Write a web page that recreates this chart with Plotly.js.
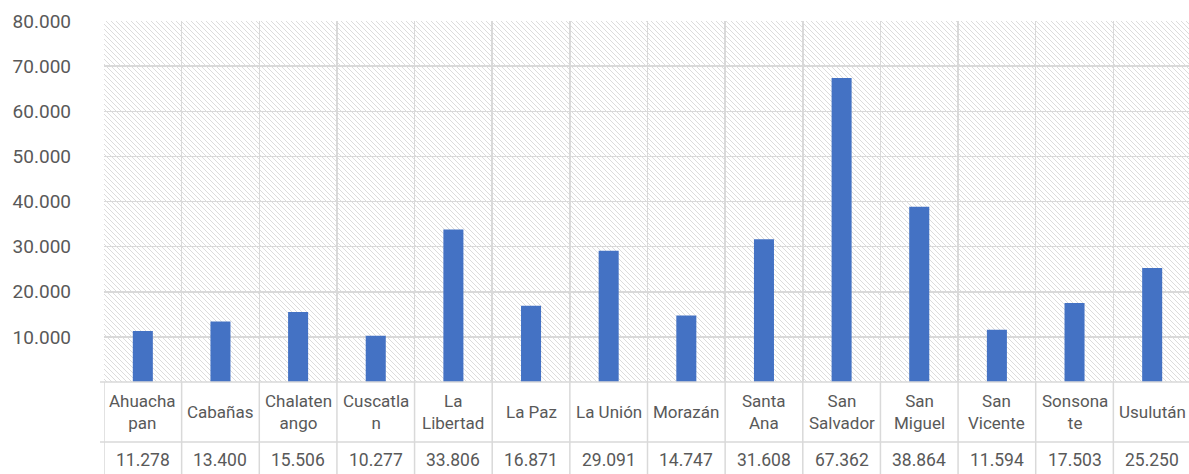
<!DOCTYPE html>
<html>
<head>
<meta charset="utf-8">
<script src="https://cdn.plot.ly/plotly-3.0.1.min.js"></script>
<style>
  html, body { margin: 0; padding: 0; background: #ffffff; overflow: hidden; }
  #chart { width: 1192px; height: 474px; }
</style>
</head>
<body>
<div id="chart"></div>
<script>
// ---- Data ----
const categories = ['Ahuachapan', 'Cabañas', 'Chalatenango', 'Cuscatlan', 'La Libertad', 'La Paz', 'La Unión',
                    'Morazán', 'Santa Ana', 'San Salvador', 'San Miguel', 'San Vicente', 'Sonsonate', 'Usulután'];
const tableLabels = ['Ahuacha<br>pan', 'Cabañas', 'Chalaten<br>ango', 'Cuscatla<br>n', 'La<br>Libertad', 'La Paz', 'La Unión',
                     'Morazán', 'Santa<br>Ana', 'San<br>Salvador', 'San<br>Miguel', 'San<br>Vicente', 'Sonsona<br>te', 'Usulután'];
const values = [11278, 13400, 15506, 10277, 33806, 16871, 29091, 14747, 31608, 67362, 38864, 11594, 17503, 25250];
const yTickVals = [10000, 20000, 30000, 40000, 50000, 60000, 70000, 80000];

// ---- Layout constants ----
const W = 1192, H = 474;
const M = { l: 104, r: 1, t: 21, b: 92 };
const plotH = H - M.t - M.b;          // 361
const plotW = W - M.l - M.r;
const plotBottom = M.t + plotH;       // 382
const pyToPaper = py => (plotBottom - py) / plotH;

const textColor = '#595959';
const gridColor = '#d9d9d9';
const fontFamily = 'Roboto, "Open Sans", sans-serif';
const plotBgSentinel = 'rgb(255, 255, 254)';

function fmt(v) { return String(v).replace(/\B(?=(\d{3})+(?!\d))/g, '.'); }

const trace = {
  type: 'bar',
  x: categories,
  y: values,
  marker: { color: '#4472C4', line: { width: 0 } },
  hoverinfo: 'x+y'
};

const annotations = [];
categories.forEach((c, i) => {
  annotations.push({
    xref: 'x', yref: 'paper', x: c, y: pyToPaper(412),
    text: tableLabels[i], showarrow: false, xanchor: 'center', yanchor: 'middle',
    align: 'center', valign: 'middle',
    font: { family: fontFamily, size: 17, color: textColor }
  });
  annotations.push({
    xref: 'x', yref: 'paper', x: c, y: pyToPaper(460),
    text: fmt(values[i]), showarrow: false, xanchor: 'center', yanchor: 'middle',
    font: { family: fontFamily, size: 17.5, color: textColor }
  });
});

const shapes = [];
for (let i = 0; i <= categories.length; i++) {
  shapes.push({
    type: 'line', xref: 'x', yref: 'paper',
    x0: i - 0.5, x1: i - 0.5, y0: pyToPaper(480), y1: 0,
    line: { color: gridColor, width: 1.5 }, layer: 'below'
  });
}
shapes.push({
  type: 'line', xref: 'paper', yref: 'paper',
  x0: -4 / plotW, x1: 1, y0: pyToPaper(442), y1: pyToPaper(442),
  line: { color: gridColor, width: 1.5 }
});
shapes.push({
  type: 'line', xref: 'paper', yref: 'paper',
  x0: -4 / plotW, x1: 1, y0: 0, y1: 0,
  line: { color: gridColor, width: 1.5 }
});

const layout = {
  width: W, height: H,
  margin: M,
  paper_bgcolor: '#ffffff',
  plot_bgcolor: plotBgSentinel,
  separators: ',.',
  showlegend: false,
  bargap: 0.742,
  font: { family: fontFamily, color: textColor },
  xaxis: {
    type: 'category',
    range: [-0.5, categories.length - 0.5],
    tickson: 'boundaries',
    showgrid: true, gridcolor: gridColor, gridwidth: 1.5,
    showticklabels: false, ticks: '',
    showline: false, zeroline: false, fixedrange: true
  },
  yaxis: {
    range: [0, 80000],
    tickvals: yTickVals,
    tickformat: ',d',
    showgrid: true, gridcolor: gridColor, gridwidth: 1.5,
    zeroline: false, showline: false, ticks: '',
    ticklabelstandoff: 32,
    tickfont: { family: fontFamily, size: 19, color: textColor },
    fixedrange: true
  },
  annotations: annotations,
  shapes: shapes
};

function applyHatch(gd) {
  const svgNS = 'http://www.w3.org/2000/svg';
  const svg = gd.querySelector('svg.main-svg');
  if (!svg) return;
  let defs = svg.querySelector('defs');
  if (!defs) { defs = document.createElementNS(svgNS, 'defs'); svg.insertBefore(defs, svg.firstChild); }
  if (!document.getElementById('hatchBg')) {
    const pat = document.createElementNS(svgNS, 'pattern');
    pat.setAttribute('id', 'hatchBg');
    pat.setAttribute('patternUnits', 'userSpaceOnUse');
    pat.setAttribute('width', '5');
    pat.setAttribute('height', '5');
    const r = document.createElementNS(svgNS, 'rect');
    r.setAttribute('width', '5'); r.setAttribute('height', '5'); r.setAttribute('fill', '#ffffff');
    pat.appendChild(r);
    const p = document.createElementNS(svgNS, 'path');
    p.setAttribute('d', 'M-1,-1 L6,6 M-1,4 L1,6 M4,-1 L6,1');
    p.setAttribute('stroke', '#dcdcdc');
    p.setAttribute('stroke-width', '1');
    pat.appendChild(p);
    defs.appendChild(pat);
  }
  gd.querySelectorAll('rect').forEach(rect => {
    const f = (rect.style.fill || rect.getAttribute('fill') || '').replace(/\s/g, '');
    if (f === 'rgb(255,255,254)' || f === '#fffffe') {
      rect.style.fill = 'url(#hatchBg)';
      rect.setAttribute('fill', 'url(#hatchBg)');
    }
  });
}

Plotly.newPlot('chart', [trace], layout, { displayModeBar: false, staticPlot: true }).then(gd => {
  applyHatch(gd);
});
</script>
</body>
</html>
